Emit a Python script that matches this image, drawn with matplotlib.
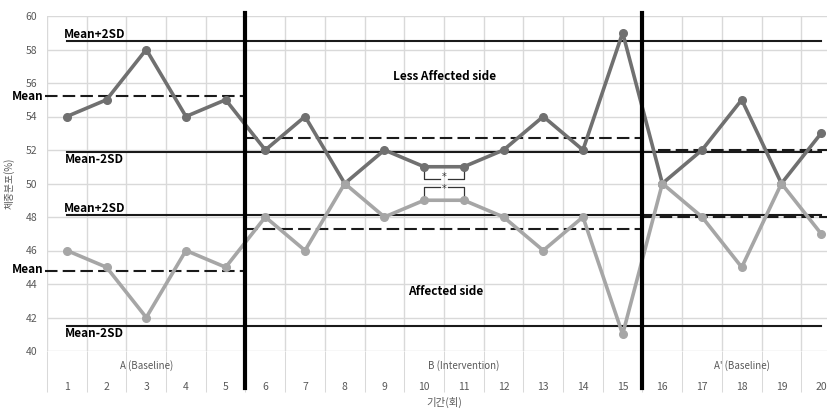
import matplotlib
matplotlib.use("Agg")
import matplotlib.pyplot as plt

plt.rcParams['font.family'] = ['Noto Sans CJK KR', 'DejaVu Sans']

sessions = list(range(1, 21))
less_affected = [54, 55, 58, 54, 55, 52, 54, 50, 52, 51, 51, 52, 54, 52, 59, 50, 52, 55, 50, 53]
affected = [46, 45, 42, 46, 45, 48, 46, 50, 48, 49, 49, 48, 46, 48, 41, 50, 48, 45, 50, 47]

# band lines: (value, x start, x end)
upper_sd = [58.5, 51.9]
lower_sd = [48.1, 41.5]
upper_means = [(55.2, 0.45, 5.5), (52.7, 5.5, 15.5), (52.0, 15.9, 20.6)]
lower_means = [(44.8, 0.45, 5.5), (47.3, 5.5, 15.5), (48.0, 15.5, 20.6)]
phase_splits = [5.5, 15.5]
phase_names = ["A (Baseline)", "B (Intervention)", "A' (Baseline)"]
phase_pos = [3, 11, 18]

fig = plt.figure(figsize=(8.28, 4.09), dpi=100)
ax = fig.add_axes([47 / 828, 58 / 409, 794 / 828, 335 / 409])

grid_c = "#d9d9d9"
txt_c = "#595959"

ax.set_xlim(0.5, 20.5)
ax.set_ylim(40, 60)
ax.set_yticks(range(40, 61, 2))
ax.set_xticks(sessions)
ax.set_xticks([i + 0.5 for i in range(0, 21)], minor=True)
ax.grid(which='major', axis='y', color=grid_c, lw=1)
ax.grid(which='minor', axis='x', color=grid_c, lw=1)
for s in ax.spines.values():
    s.set_visible(False)
ax.tick_params(axis='y', length=0, pad=7, labelsize=7.5, labelcolor=txt_c)
ax.tick_params(axis='x', which='major', length=0, pad=22, labelsize=7.5, labelcolor=txt_c)
ax.tick_params(axis='x', which='minor', length=29.5, width=0.75, color=grid_c, direction='out')
ax.set_axisbelow(True)

ax.set_ylabel("체중분포(%)", fontsize=7, color=txt_c, labelpad=8)
ax.set_xlabel("기간(회)", fontsize=7.5, color=txt_c, labelpad=0)

# SD lines
for v in upper_sd + lower_sd:
    ax.plot([1, 20], [v, v], color="#1a1a1a", lw=1.5, zorder=3)
for v, x0, x1 in upper_means + lower_means:
    ax.plot([x0, x1], [v, v], color="#1a1a1a", lw=1.5, ls=(0, (6, 2.5)),
            zorder=3, clip_on=False)

# data
ax.plot(sessions, less_affected, color="#707070", lw=2.6, marker='o', ms=5.5, zorder=4)
ax.plot(sessions, affected, color="#a6a6a6", lw=2.6, marker='o', ms=5.5, zorder=4)

# phase change lines
for x in phase_splits:
    ax.axvline(x, ymin=-0.11, ymax=1.009, color="black", lw=3, zorder=6, clip_on=False)

for name, x in zip(phase_names, phase_pos):
    ax.text(x, 39.15, name, ha='center', va='center', fontsize=7, color=txt_c, clip_on=False)

# labels
bold = dict(fontsize=8.5, fontweight='bold', color="black", clip_on=False)
ax.text(0.93, 58.87, "Mean+2SD", ha='left', va='center', **bold)
ax.text(0.95, 51.46, "Mean-2SD", ha='left', va='center', **bold)
ax.text(0.4, 55.2, "Mean", ha='right', va='center', **bold)
ax.text(0.93, 48.5, "Mean+2SD", ha='left', va='center', **bold)
ax.text(0.4, 44.84, "Mean", ha='right', va='center', **bold)
ax.text(0.95, 41.07, "Mean-2SD", ha='left', va='center', **bold)
ax.text(10.52, 56.36, "Less Affected side", ha='center', va='center', **bold)
ax.text(10.55, 43.58, "Affected side", ha='center', va='center', **bold)

# significance brackets between sessions 10 and 11
bc = "#333333"
star = dict(ha='center', va='center', fontsize=7, color=bc, family='DejaVu Sans')
ax.plot([10, 10, 10.4], [50.69, 50.27, 50.27], color=bc, lw=0.9, zorder=5)
ax.plot([10.6, 11, 11], [50.27, 50.27, 50.69], color=bc, lw=0.9, zorder=5)
ax.text(10.5, 50.37, "*", **star)
ax.plot([10, 10, 10.4], [49.31, 49.79, 49.79], color=bc, lw=0.9, zorder=5)
ax.plot([10.6, 11, 11], [49.79, 49.79, 49.31], color=bc, lw=0.9, zorder=5)
ax.text(10.5, 49.65, "*", **star)

fig.savefig("out.png", dpi=100)
